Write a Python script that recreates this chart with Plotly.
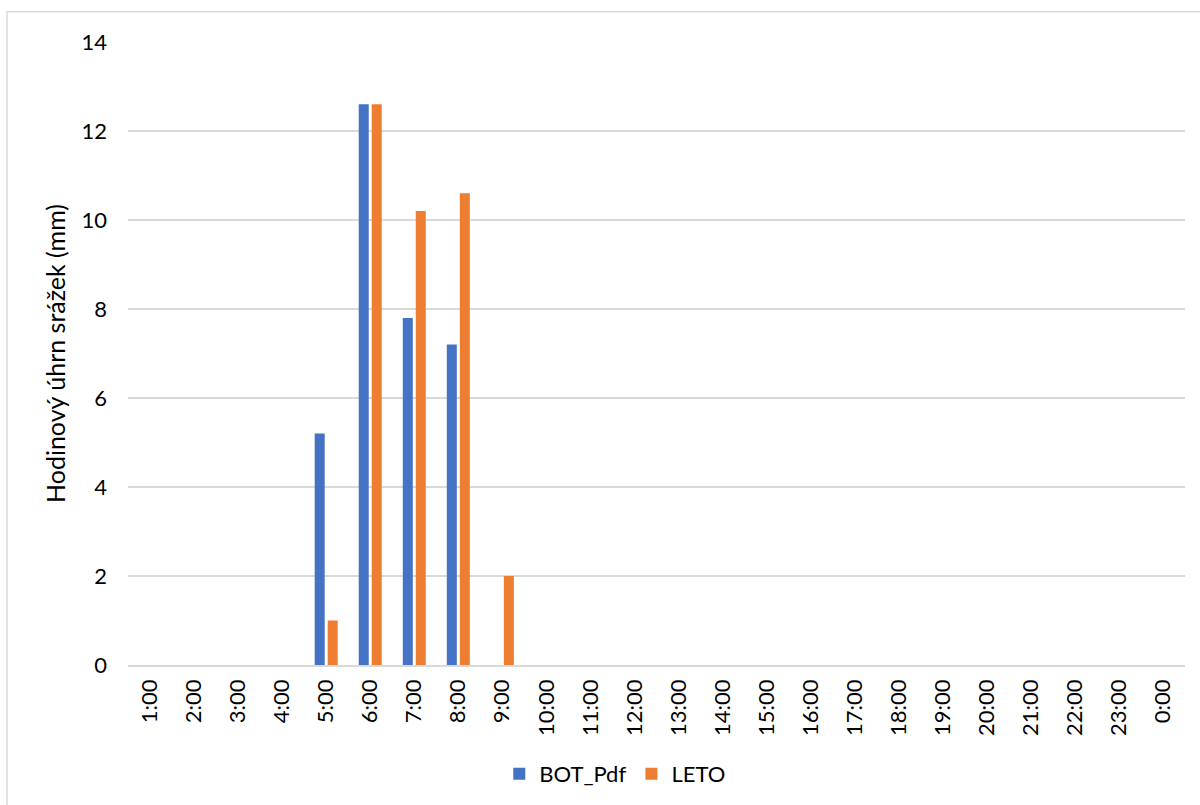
import plotly.graph_objects as go

# Hourly categories and precipitation totals (mm)
hours = ["1:00", "2:00", "3:00", "4:00", "5:00", "6:00", "7:00", "8:00",
         "9:00", "10:00", "11:00", "12:00", "13:00", "14:00", "15:00", "16:00",
         "17:00", "18:00", "19:00", "20:00", "21:00", "22:00", "23:00", "0:00"]
bot_pdf = [0, 0, 0, 0, 5.2, 12.6, 7.8, 7.2, 0, 0, 0, 0,
           0, 0, 0, 0, 0, 0, 0, 0, 0, 0, 0, 0]
leto = [0, 0, 0, 0, 1.0, 12.6, 10.2, 10.6, 2.0, 0, 0, 0,
        0, 0, 0, 0, 0, 0, 0, 0, 0, 0, 0, 0]
y_ticks = [0, 2, 4, 6, 8, 10, 12, 14]

FONT = "Lato, Calibri, 'Liberation Sans', sans-serif"
GRID = "#D9D9D9"

fig = go.Figure()
fig.add_trace(go.Bar(x=hours, y=bot_pdf, name="BOT_Pdf",
                     marker=dict(color="#4472C4", line=dict(width=0))))
fig.add_trace(go.Bar(x=hours, y=leto, name="LETO",
                     marker=dict(color="#ED7D31", line=dict(width=0))))

fig.update_layout(
    width=1200, height=805,
    margin=dict(l=128, r=15, t=42, b=140, autoexpand=False),
    paper_bgcolor="white", plot_bgcolor="white",
    barmode="group", bargap=0.41, bargroupgap=0.23,
    font=dict(family=FONT, size=22, color="#000000"),
    showlegend=True,
    legend=dict(orientation="h", x=0.461, xanchor="center", y=-0.175, yanchor="middle",
                font=dict(size=22), itemsizing="constant", traceorder="normal"),
    xaxis=dict(type="category", tickangle=-90, showgrid=False,
               showline=True, linecolor=GRID, linewidth=1.5,
               ticks="", ticklabelstandoff=4, tickfont=dict(size=22)),
    yaxis=dict(range=[0, 14], tickvals=y_ticks, showgrid=True, gridcolor=GRID,
               gridwidth=1.5, zeroline=False, showline=False, ticks="",
               ticklen=0, ticklabelstandoff=20, tickfont=dict(size=22),
               title=dict(text="Hodinový úhrn srážek (mm)", font=dict(size=25), standoff=8)),
    shapes=[dict(type="rect", xref="paper", yref="paper",
                 x0=-0.1145, x1=1.03, y0=-0.25, y1=1.0485,
                 line=dict(color=GRID, width=1.5), fillcolor="rgba(0,0,0,0)", layer="below")],
)

fig.write_html("out.html")
